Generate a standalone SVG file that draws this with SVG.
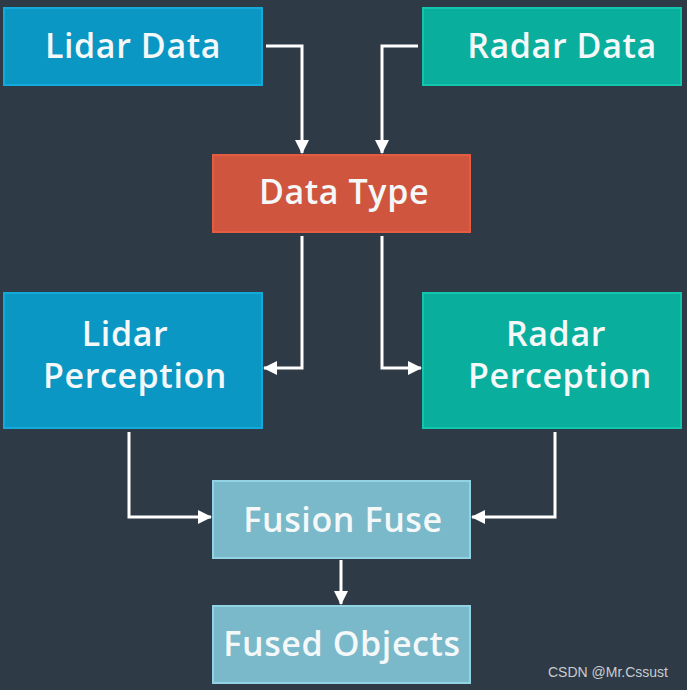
<svg xmlns="http://www.w3.org/2000/svg" width="687" height="690" viewBox="0 0 687 690">
<defs>
<marker id="ah" viewBox="0 0 14 14" refX="13" refY="7" markerWidth="14" markerHeight="14" markerUnits="userSpaceOnUse" orient="auto">
<path d="M0,0 L14,7 L0,14 Z" fill="#ffffff"/>
</marker>
<style>
.lbl{font-family:"Open Sans","Noto Sans","DejaVu Sans",sans-serif;font-weight:600;font-size:34px;letter-spacing:0.6px;fill:#f4f8f9;text-anchor:middle}
.lidar{fill:#0a97c3;stroke:#13aadb;stroke-width:2}
.radar{fill:#0aae9c;stroke:#12c5ad;stroke-width:2}
.dtype{fill:#cf553f;stroke:#e65c40;stroke-width:2}
.fuse{fill:#79b9c9;stroke:#92d3e3;stroke-width:2}
.conn{fill:none;stroke:#ffffff;stroke-width:3;marker-end:url(#ah)}
.wm{font-family:"Liberation Sans",Arial,sans-serif;font-size:14px;fill:#c9cdd1}
</style>
</defs>
<rect width="687" height="690" fill="#2e3a46"/>
<g id="lidar-data"><rect class="lidar" x="4" y="8" width="258" height="77"/><text class="lbl" x="133" y="58">Lidar Data</text></g>
<g id="radar-data"><rect class="radar" x="423" y="8" width="258" height="77"/><text class="lbl" x="562" y="58">Radar Data</text></g>
<g id="data-type"><rect class="dtype" x="213" y="155" width="257" height="77"/><text class="lbl" x="344" y="204">Data Type</text></g>
<g id="lidar-perception"><rect class="lidar" x="4" y="293" width="258" height="135"/><text class="lbl" x="125" y="346">Lidar</text><text class="lbl" x="135" y="388">Perception</text></g>
<g id="radar-perception"><rect class="radar" x="423" y="293" width="258" height="135"/><text class="lbl" x="556" y="346">Radar</text><text class="lbl" x="560" y="388">Perception</text></g>
<g id="fusion-fuse"><rect class="fuse" x="213" y="481" width="257" height="77"/><text class="lbl" x="343" y="532">Fusion Fuse</text></g>
<g id="fused-objects"><rect class="fuse" x="213" y="606" width="257" height="77"/><text class="lbl" x="342" y="656">Fused Objects</text></g>
<g id="connectors">
<path class="conn" d="M266,46 H302 V153"/>
<path class="conn" d="M418,46 H382 V153"/>
<path class="conn" d="M302,236 V368 H264"/>
<path class="conn" d="M382,236 V368 H421"/>
<path class="conn" d="M129,432 V517 H211"/>
<path class="conn" d="M555,432 V517 H472"/>
<path class="conn" d="M341,560 V604"/>
</g>
<text class="wm" x="548" y="677">CSDN @Mr.Cssust</text>
</svg>
